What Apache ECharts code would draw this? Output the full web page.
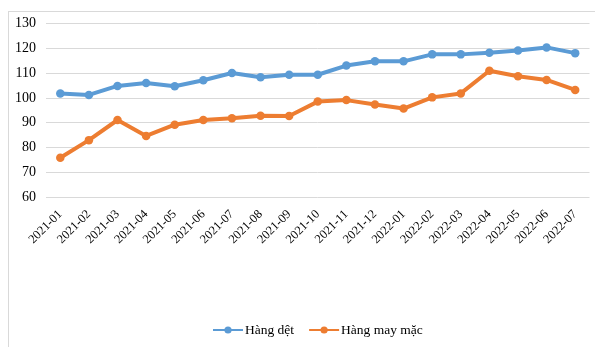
<!DOCTYPE html>
<html>
<head>
<meta charset="utf-8">
<script src="https://cdn.jsdelivr.net/npm/echarts@6/dist/echarts.min.js"></script>
<style>
  html, body { margin: 0; padding: 0; background: #fff; }
  #frame { position: absolute; left: 8px; top: 11px; width: 600px; height: 350px; border: 1px solid #d9d9d9; }
  #chart { position: absolute; left: 0; top: 0; width: 595px; height: 347px; }
</style>
</head>
<body>
<div id="frame"></div>
<div id="chart"></div>
<script>
// tháng
var months = ['2021-01', '2021-02', '2021-03', '2021-04', '2021-05', '2021-06', '2021-07', '2021-08', '2021-09', '2021-10',
    '2021-11', '2021-12', '2022-01', '2022-02', '2022-03', '2022-04', '2022-05', '2022-06', '2022-07'];
var hangDet = [101.8, 101.2, 104.8, 106.0, 104.7, 107.1, 110.0, 108.3, 109.3, 109.3,
    113.0, 114.7, 114.7, 117.5, 117.5, 118.2, 119.1, 120.3, 118.0];
var hangMayMac = [75.9, 83.0, 91.1, 84.7, 89.2, 91.1, 91.8, 92.8, 92.7, 98.5,
    99.1, 97.3, 95.7, 100.2, 101.8, 110.9, 108.7, 107.2, 103.2];
var yTicks = { min: 60, max: 130, step: 10 };

var myChart = echarts.init(document.getElementById('chart'));
var font = '"Liberation Serif", "Times New Roman", serif';

function lineSeries(name, data, color) {
    return {
        name: name,
        type: 'line',
        data: data,
        symbol: 'circle',
        symbolSize: 8.5,
        lineStyle: { color: color, width: 4 },
        itemStyle: { color: color },
        emphasis: { disabled: true }
    };
}

var option = {
    animation: false,
    textStyle: { fontFamily: font },
    grid: { left: 46, right: 5.5, top: 23.3, bottom: 149.7 },
    legend: {
        left: 207,
        top: 318,
        itemWidth: 30,
        itemHeight: 9,
        itemGap: 14,
        textStyle: { fontFamily: font, fontSize: 13.5, color: '#000', padding: [0, 0, 0, -3] },
        data: ['Hàng dệt', 'Hàng may mặc']
    },
    xAxis: {
        type: 'category',
        data: months,
        boundaryGap: true,
        axisLine: { show: false },
        axisTick: { show: false },
        axisLabel: {
            interval: 0,
            rotate: 45,
            margin: 15,
            fontFamily: font,
            fontSize: 12.5,
            color: '#000'
        }
    },
    yAxis: {
        type: 'value',
        min: yTicks.min,
        max: yTicks.max,
        interval: yTicks.step,
        axisLine: { show: false },
        axisTick: { show: false },
        splitLine: { lineStyle: { color: '#d9d9d9', width: 1 } },
        axisLabel: { fontFamily: font, fontSize: 14, color: '#000', margin: 10 }
    },
    series: [
        lineSeries('Hàng dệt', hangDet, '#5b9bd5'),
        lineSeries('Hàng may mặc', hangMayMac, '#ed7d31')
    ]
};

myChart.setOption(option);
</script>
</body>
</html>
